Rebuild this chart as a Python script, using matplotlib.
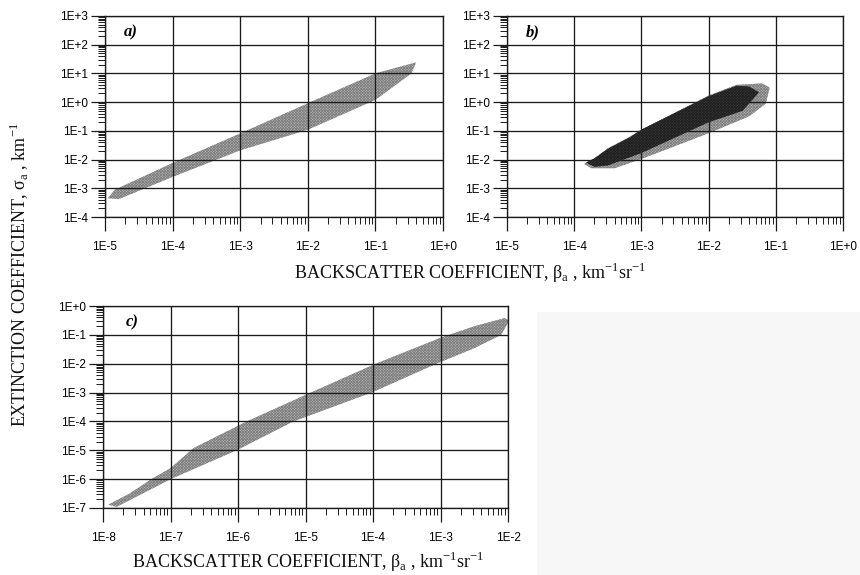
import numpy as np
import matplotlib
matplotlib.use("Agg")
import matplotlib.pyplot as plt
from matplotlib.ticker import LogLocator, FuncFormatter, NullFormatter
from matplotlib.patches import Rectangle

plt.rcParams["hatch.linewidth"] = 0.6

# ---- panel a: single scatter band (edges of the point cloud) ----
a_upper_x = [1.1e-5, 1.4e-5, 1e-4, 1e-3, 1e-2, 0.1, 0.25, 0.4]
a_upper_y = [4.5e-4, 8.9e-4, 7.6e-3, 8.1e-2, 0.91, 10, 18, 24]
a_lower_x = [1.1e-5, 1.6e-5, 1e-4, 1e-3, 1e-2, 0.1, 0.34, 0.4]
a_lower_y = [4.5e-4, 4.2e-4, 2.5e-3, 2.1e-2, 0.11, 1.2, 10, 24]

# ---- panel b: light cloud underneath, dark cloud on top ----
b_light_upper_x = [1.4e-4, 2e-4, 3.2e-4, 6.8e-4, 1e-3, 1e-2, 2.6e-2, 6.3e-2, 8.1e-2]
b_light_upper_y = [7.1e-3, 1.1e-2, 2.5e-2, 6.3e-2, 0.11, 1.7, 4.0, 4.5, 3.2]
b_light_lower_x = [1.4e-4, 1.8e-4, 4e-4, 1e-3, 1e-2, 4e-2, 7.1e-2, 8.1e-2]
b_light_lower_y = [7.1e-3, 5e-3, 5e-3, 1.05e-2, 8.3e-2, 0.32, 0.89, 3.2]

b_dark_upper_x = [1.5e-4, 2e-4, 3.2e-4, 6.8e-4, 1e-3, 1e-2, 2.6e-2, 4e-2, 5.6e-2]
b_dark_upper_y = [7.9e-3, 1.1e-2, 2.4e-2, 6e-2, 0.11, 1.6, 3.7, 3.5, 2.2]
b_dark_lower_x = [1.5e-4, 2e-4, 3.2e-4, 1e-3, 1e-2, 3.2e-2, 5.6e-2]
b_dark_lower_y = [7.9e-3, 5.6e-3, 6.3e-3, 1.7e-2, 0.2, 0.5, 2.2]

# ---- panel c: single scatter band ----
c_upper_x = [1.2e-8, 2.5e-8, 5.2e-8, 1e-7, 2.2e-7, 1.35e-6, 1.2e-5, 1.1e-4, 1e-3, 3.2e-3, 8.9e-3, 1.05e-2]
c_upper_y = [1.3e-7, 3.2e-7, 1e-6, 2.4e-6, 1.2e-5, 1e-4, 1e-3, 1e-2, 7.9e-2, 0.2, 0.38, 0.32]
c_lower_x = [1.2e-8, 1.6e-8, 1e-7, 9.5e-7, 6.6e-6, 9.5e-5, 8.7e-4, 3.2e-3, 7.9e-3, 1.05e-2]
c_lower_y = [1.3e-7, 1.1e-7, 1e-6, 1e-5, 1e-4, 1e-3, 1e-2, 3.5e-2, 0.1, 0.32]

panel_a_xlim, panel_a_ylim = (1e-5, 1e0), (1e-4, 1e3)
panel_b_xlim, panel_b_ylim = (1e-5, 1e0), (1e-4, 1e3)
panel_c_xlim, panel_c_ylim = (1e-8, 1e-2), (1e-7, 1e0)

xlabel = "BACKSCATTER COEFFICIENT, β$_{\\mathregular{a}}$ , km$^{\\mathregular{-1}}$sr$^{\\mathregular{-1}}$"
ylabel = "EXTINCTION COEFFICIENT, σ$_{\\mathregular{a}}$ , km$^{\\mathregular{-1}}$"

W, H = 860, 575
fig = plt.figure(figsize=(W / 100, H / 100), dpi=100)


def px_axes(left, top, right, bottom):
    return fig.add_axes([left / W, 1 - bottom / H, (right - left) / W, (bottom - top) / H])


def sci_label(v, pos):
    e = int(round(np.log10(v)))
    return f"1E{e:+d}" if e >= 0 else f"1E{e}"


def style(ax, xlim, ylim, tag):
    ax.set_xscale("log")
    ax.set_yscale("log")
    ax.set_xlim(*xlim)
    ax.set_ylim(*ylim)
    for ax_ in (ax.xaxis, ax.yaxis):
        ax_.set_major_locator(LogLocator(base=10, numticks=20))
        ax_.set_minor_locator(LogLocator(base=10, subs=np.arange(2, 10), numticks=50))
        ax_.set_major_formatter(FuncFormatter(sci_label))
        ax_.set_minor_formatter(NullFormatter())
    ax.grid(True, which="major", color="#1a1a1a", lw=0.95)
    ax.set_axisbelow(False)
    ax.tick_params(which="major", direction="out", length=10, width=0.9, color="#1a1a1a",
                   labelsize=8.5, labelfontfamily="Liberation Sans")
    ax.tick_params(axis="x", which="major", pad=7)
    ax.tick_params(axis="y", which="major", pad=2)
    ax.tick_params(which="minor", direction="out", length=5, width=0.7, color="#1a1a1a")
    for s in ax.spines.values():
        s.set_linewidth(0.95)
        s.set_color("#1a1a1a")
    ax.text(0.055, 0.92, tag, transform=ax.transAxes, fontsize=12, fontstyle="italic",
            fontweight="bold", family="Liberation Serif", va="center", ha="left")


def band(ax, ux, uy, lx, ly, face, hatch_col, z=2):
    xs = list(ux) + list(lx[::-1])
    ys = list(uy) + list(ly[::-1])
    ax.fill(xs, ys, facecolor=face, edgecolor=hatch_col, hatch="xxxxxxxxxxxx", lw=0, zorder=z)


# light background box at lower right
fig.add_artist(Rectangle((537 / W, 0), 1 - 537 / W, 1 - 312 / H, transform=fig.transFigure,
                         facecolor="#f7f7f7", edgecolor="none", zorder=0))

ax_a = px_axes(105, 16, 443, 217)
style(ax_a, panel_a_xlim, panel_a_ylim, "a)")
band(ax_a, a_upper_x, a_upper_y, a_lower_x, a_lower_y, "#b8b8b8", "#808080")

ax_b = px_axes(507, 16, 843, 217)
style(ax_b, panel_b_xlim, panel_b_ylim, "b)")
band(ax_b, b_light_upper_x, b_light_upper_y, b_light_lower_x, b_light_lower_y, "#b8b8b8", "#808080", 2)
band(ax_b, b_dark_upper_x, b_dark_upper_y, b_dark_lower_x, b_dark_lower_y, "#3a3a3a", "#202020", 3)

ax_c = px_axes(103, 306, 508, 508)
style(ax_c, panel_c_xlim, panel_c_ylim, "c)")
band(ax_c, c_upper_x, c_upper_y, c_lower_x, c_lower_y, "#b8b8b8", "#808080")

lab = dict(family="Liberation Serif", fontsize=13, color="#111111")
fig.text(470 / W, 1 - 273 / H, xlabel, ha="center", va="center", **lab)
fig.text(308 / W, 1 - 562 / H, xlabel, ha="center", va="center", **lab)
fig.text(19 / W, 1 - 275 / H, ylabel, ha="center", va="center", rotation=90, **lab)

fig.savefig("out.png", dpi=100)
